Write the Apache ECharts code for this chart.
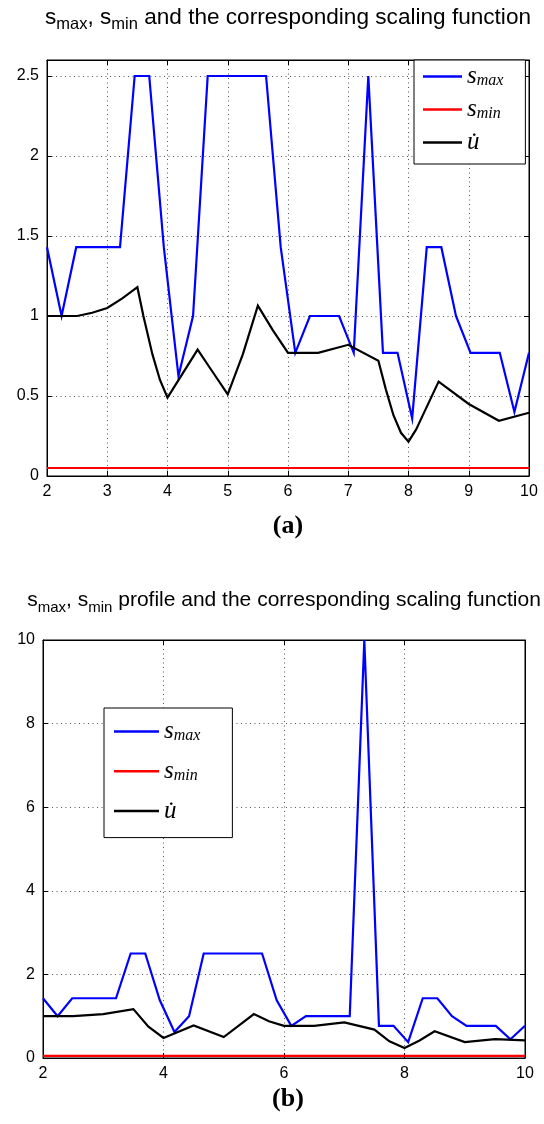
<!DOCTYPE html>
<html><head><meta charset="utf-8">
<script src="https://cdn.jsdelivr.net/npm/echarts@6/dist/echarts.min.js"></script>
<style>html,body{margin:0;padding:0;background:#fff}#c{width:544px;height:1124px}</style>
</head><body><div id="c"></div>
<script>
// ---- data ----
const sX = [2, 2.242, 2.485, 2.727, 2.970, 3.212, 3.455, 3.697, 3.939, 4.182, 4.424, 4.667, 4.909, 5.152, 5.394, 5.636, 5.879, 6.121, 6.364, 6.606, 6.848, 7.091, 7.333, 7.576, 7.818, 8.061, 8.303, 8.545, 8.788, 9.030, 9.273, 9.515, 9.758, 10];
const sMaxA = [1.43, 1.0, 1.43, 1.43, 1.43, 1.43, 2.5, 2.5, 1.43, 0.625, 1.0, 2.5, 2.5, 2.5, 2.5, 2.5, 1.43, 0.77, 1.0, 1.0, 1.0, 0.77, 2.5, 0.77, 0.77, 0.36, 1.43, 1.43, 1.0, 0.77, 0.77, 0.77, 0.4, 0.77];
const sMaxB = [1.43, 1.0, 1.43, 1.43, 1.43, 1.43, 2.5, 2.5, 1.38, 0.62, 1.0, 2.5, 2.5, 2.5, 2.5, 2.5, 1.38, 0.77, 1.0, 1.0, 1.0, 1.0, 10, 0.77, 0.77, 0.38, 1.43, 1.43, 1.0, 0.77, 0.77, 0.77, 0.45, 0.77];
const sMinX = [2, 10];
const sMinY = [0.05, 0.05];
const uXA = [2, 2.5, 2.75, 3, 3.25, 3.5, 3.6, 3.75, 3.875, 4, 4.25, 4.5, 4.75, 5, 5.25, 5.5, 5.75, 6, 6.5, 7, 7.5, 7.625, 7.75, 7.875, 8, 8.125, 8.25, 8.375, 8.5, 9, 9.5, 10];
const uA = [1.0, 1.0, 1.02, 1.05, 1.11, 1.18, 1.0, 0.76, 0.60, 0.49, 0.64, 0.79, 0.65, 0.51, 0.76, 1.065, 0.91, 0.77, 0.77, 0.82, 0.72, 0.54, 0.38, 0.27, 0.215, 0.29, 0.39, 0.49, 0.59, 0.45, 0.345, 0.395];
const uXB = [2, 2.5, 3, 3.5, 3.75, 4, 4.5, 5, 5.5, 5.75, 6, 6.5, 7, 7.5, 7.75, 8, 8.25, 8.5, 9, 9.5, 10];
const uB = [1.0, 1.0, 1.05, 1.17, 0.75, 0.48, 0.78, 0.5, 1.05, 0.88, 0.77, 0.77, 0.85, 0.68, 0.40, 0.24, 0.42, 0.64, 0.38, 0.45, 0.42];
const xTicksA = ['2','3','4','5','6','7','8','9','10'];
const yTicksA = ['0','0.5','1','1.5','2','2.5'];
const xTicksB = ['2','4','6','8','10'];
const yTicksB = ['0','2','4','6','8','10'];

// ---- chart ----
const chart = echarts.init(document.getElementById('c'), null, {renderer: 'canvas'});
const FONT = 'Liberation Sans';
const zip = (xs, ys) => xs.map((x, i) => [x, ys[i]]);
const lbl = (arr) => (v) => { const s = String(+v.toFixed(3)); return arr.includes(s) ? s : ''; };
const grid = [
  {left: 47, top: 60, width: 482, height: 416, show: true, borderColor: '#000', borderWidth: 1, backgroundColor: '#fff'},
  {left: 43, top: 640, width: 482, height: 418, show: true, borderColor: '#000', borderWidth: 1, backgroundColor: '#fff'}
];
const dotted = {show: true, lineStyle: {color: '#555', type: [1, 3.5], width: 1}};
function xAx(g, min, max, step, ticks, mirror) {
  return {
    gridIndex: g, type: 'value', min, max, interval: step, position: mirror ? 'top' : 'bottom',
    axisLine: {show: true, onZero: false, lineStyle: {color: '#000', width: 1}},
    axisTick: {show: true, inside: true, length: 5, lineStyle: {color: '#000'}},
    axisLabel: {show: !mirror, color: '#000', fontSize: 16, fontFamily: FONT, margin: 8, formatter: lbl(ticks)},
    splitLine: mirror ? {show: false} : dotted
  };
}
function yAx(g, min, max, step, ticks, mirror) {
  return {
    gridIndex: g, type: 'value', min, max, interval: step, position: mirror ? 'right' : 'left',
    axisLine: {show: true, onZero: false, lineStyle: {color: '#000', width: 1}},
    axisTick: {show: true, inside: true, length: 5, lineStyle: {color: '#000'}},
    axisLabel: {show: !mirror, color: '#000', fontSize: 16, fontFamily: FONT, margin: 8, formatter: lbl(ticks), showMaxLabel: true},
    splitLine: mirror ? {show: false} : dotted
  };
}
const line = (name, xi, yi, data, color) => ({
  type: 'line', name, xAxisIndex: xi, yAxisIndex: yi, data, symbol: 'none', showSymbol: false,
  lineStyle: {color, width: 2.2, join: 'miter'}, itemStyle: {color}, animation: false, silent: true, clip: true
});
const legRich = (s, sub) => ({
  s: {fontFamily: 'Liberation Serif', fontStyle: 'italic', fontSize: s, lineHeight: 24, verticalAlign: 'middle', color: '#000'},
  sub: {fontFamily: 'Liberation Serif', fontStyle: 'italic', fontSize: sub, lineHeight: 12, verticalAlign: 'bottom', color: '#000'}
});
const legFmt = (name) => ({smax: '{s|s}{sub|max}', smin: '{s|s}{sub|min}', udot: '{s|u\u0307}'})[name];
const titleRich = (n, sub) => ({
  n: {fontFamily: FONT, fontWeight: 'normal', fontSize: n, lineHeight: 30, verticalAlign: 'middle', color: '#000'},
  sub: {fontFamily: FONT, fontWeight: 'normal', fontSize: sub, lineHeight: 10, verticalAlign: 'bottom', color: '#000'}
});

chart.setOption({
  animation: false,
  backgroundColor: '#fff',
  title: [
    {text: '{n|s}{sub|max}{n|, s}{sub|min}{n| and the corresponding scaling function}', left: 288, top: 3, padding: 0, textAlign: 'center', textStyle: {fontWeight: 'normal', rich: titleRich(22.6, 16.5)}},
    {text: '{n|s}{sub|max}{n|, s}{sub|min}{n| profile and the corresponding scaling function}', left: 284, top: 585, padding: 0, textAlign: 'center', textStyle: {fontWeight: 'normal', rich: titleRich(21, 15)}}
  ],
  grid,
  xAxis: [xAx(0, 2, 10, 1, xTicksA, false), xAx(0, 2, 10, 1, xTicksA, true), xAx(1, 2, 10, 2, xTicksB, false), xAx(1, 2, 10, 2, xTicksB, true)],
  yAxis: [yAx(0, 0, 2.6, 0.5, yTicksA, false), yAx(0, 0, 2.6, 0.5, yTicksA, true), yAx(1, 0, 10, 2, yTicksB, false), yAx(1, 0, 10, 2, yTicksB, true)],
  legend: [
    {data: ['smax', 'smin', 'udot'], orient: 'vertical', left: 414, top: 60, icon: 'rect', itemWidth: 39, itemHeight: 2.5, itemGap: 8,
     padding: [4, 22, 9, 9], backgroundColor: '#fff', borderColor: '#000', borderWidth: 1, borderRadius: 0,
     selectedMode: false, formatter: legFmt, textStyle: {rich: legRich(25, 16)}},
    {data: ['smax', 'smin', 'udot'], orient: 'vertical', left: 104, top: 708, icon: 'rect', itemWidth: 45, itemHeight: 2.5, itemGap: 14.8,
     padding: [11, 32, 14, 10], backgroundColor: '#fff', borderColor: '#000', borderWidth: 1, borderRadius: 0,
     selectedMode: false, formatter: legFmt, textStyle: {rich: legRich(25, 16)}}
  ],
  series: [
    line('smax', 0, 0, zip(sX, sMaxA), '#0000ff'),
    line('smin', 0, 0, zip(sMinX, sMinY), '#ff0000'),
    line('udot', 0, 0, zip(uXA, uA), '#000000'),
    line('smax', 2, 2, zip(sX, sMaxB), '#0000ff'),
    line('smin', 2, 2, zip(sMinX, sMinY), '#ff0000'),
    line('udot', 2, 2, zip(uXB, uB), '#000000')
  ],
  graphic: [
    {type: 'text', x: 288, y: 526, style: {text: '(a)', font: 'bold 26px "Liberation Serif"', fill: '#000', align: 'center', verticalAlign: 'middle'}},
    {type: 'text', x: 288, y: 1099, style: {text: '(b)', font: 'bold 26px "Liberation Serif"', fill: '#000', align: 'center', verticalAlign: 'middle'}}
  ]
});
</script>
</body></html>
